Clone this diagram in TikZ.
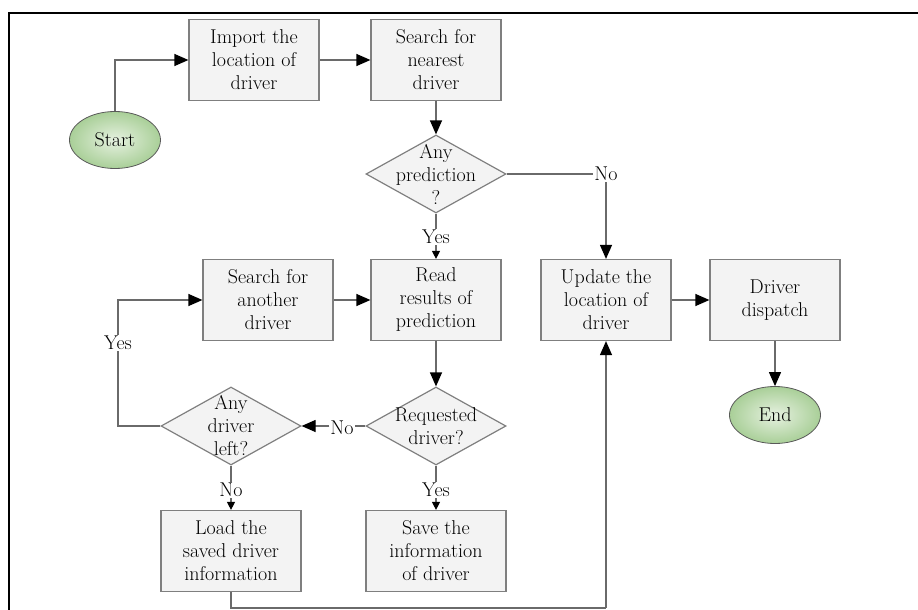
\documentclass[tikz,border=0pt]{standalone}
\usepackage{xcolor}
\usepackage{tikz}
\usetikzlibrary{shapes.geometric,arrows.meta}
\definecolor{boxfill}{HTML}{F3F3F3}
\definecolor{boxline}{HTML}{7F7F7F}
\definecolor{flowline}{HTML}{6A6A6A}
\definecolor{termlight}{HTML}{E6F1E0}
\definecolor{termdark}{HTML}{A9CF98}

\begin{document}
\begin{tikzpicture}[x=1pt,y=-1pt,
        every node/.style={font=\fontsize{20}{23}\selectfont, text=black},
        process/.style={rectangle, draw=boxline, fill=boxfill, line width=1.2pt,
            minimum width=130pt, minimum height=81pt, align=center, inner sep=2pt},
        decision/.style={diamond, draw=boxline, fill=boxfill, line width=1.2pt,
            minimum width=140pt, minimum height=78pt, inner sep=0pt},
        terminal/.style={ellipse, draw=black!65, line width=0.8pt, inner color=termlight,
            outer color=termdark, minimum width=91pt, minimum height=57pt},
        flow/.style={draw=flowline, line width=1.2pt},
        bigtip/.style={-{Triangle[length=14pt,width=12pt,black]}},
        smalltip/.style={-{Triangle[length=8pt,width=8pt,black]}},
        cond/.style={fill=white, inner sep=1pt}]
    \useasboundingbox (0,0) rectangle (918,610);
    \draw[line width=1.4pt] (918,13) -- (9,13) -- (9,610);

    % upper row
    \node[terminal] (start) at (115,140) {Start};
    \node[process] (import) at (254,60) {Import the\\location of\\driver};
    \node[process] (nearest) at (436,60) {Search for\\nearest\\driver};
    \node[decision, label={[align=center]center:Any\\prediction\\?}] (anypred) at (436,174) {};

    % middle row
    \node[process] (another) at (268,300) {Search for\\another\\driver};
    \node[process] (readres) at (436,300) {Read\\results of\\prediction};
    \node[process] (update) at (606,300) {Update the\\location of\\driver};
    \node[process] (dispatch) at (775,300) {Driver\\dispatch};
    \node[terminal] (end) at (775,415) {End};
    \node[decision, label={[align=center]center:Requested\\driver?}] (requested) at (436,426) {};
    \node[decision, label={[align=center]center:Any\\driver\\left?}] (drvleft) at (231,426) {};

    % lower row
    \node[process, minimum width=140pt] (load) at (231,551) {Load the\\saved driver\\information};
    \node[process, minimum width=140pt] (save) at (436,551) {Save the\\information\\of driver};

    % branch labels
    \node[cond] (yes1) at (436,237) {Yes};
    \node[cond] (no1) at (606,174) {No};
    \node[cond] (yes2) at (118,343) {Yes};
    \node[cond] (no2) at (342,428) {No};
    \node[cond] (no3) at (231,490) {No};
    \node[cond] (yes3) at (436,490) {Yes};
    \coordinate (lowturn) at (606,608);

    \draw[flow, bigtip] (start.north) |- (import.west);
    \draw[flow, bigtip] (import) -- (nearest);
    \draw[flow, bigtip] (nearest) -- (anypred);
    \draw[flow] (anypred) -- (yes1);
    \draw[flow, smalltip] (yes1) -- (readres);
    \draw[flow] (anypred.east) -- (no1);
    \draw[flow, bigtip] (no1) -- (update);
    \draw[flow, bigtip] (another) -- (readres);
    \draw[flow, bigtip] (update) -- (dispatch);
    \draw[flow, bigtip] (dispatch) -- (end);
    \draw[flow, bigtip] (readres) -- (requested);
    \draw[flow] (requested) -- (requested.west -| no2.east);
    \draw[flow, bigtip] (no2.west |- drvleft.east) -- (drvleft);
    \draw[flow] (drvleft.west) -| (yes2);
    \draw[flow, bigtip] (yes2) |- (another.west);
    \draw[flow] (drvleft) -- (no3);
    \draw[flow, smalltip] (no3) -- (load);
    \draw[flow] (requested) -- (yes3);
    \draw[flow, smalltip] (yes3) -- (save);
    \draw[flow] (load.south) |- (lowturn);
    \draw[flow, bigtip] (lowturn) -- (update);
\end{tikzpicture}
\end{document}
